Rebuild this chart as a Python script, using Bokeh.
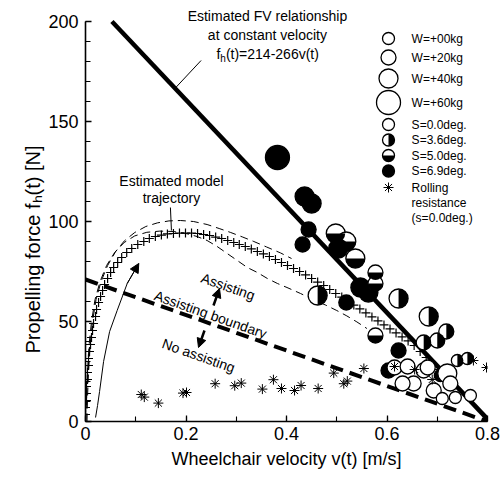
import math
from bokeh.plotting import figure
from bokeh.layouts import row
from bokeh.models import (Range1d, SingleIntervalTicker, CustomJSTickFormatter,
                          Label, Arrow, NormalHead, ColumnDataSource)
from bokeh.embed import file_html
from bokeh.resources import INLINE

FONT = "Liberation Sans"

# ---------------- data ----------------
# Estimated FV relationship f = 214 - 266 v
fv_intercept = 214.0
fv_slope = 266.0
fv_v_max = 0.8

# Assisting boundary
bound_v = [0.0, 0.8]
bound_f = [71.0, 0.0]

# Estimated model trajectory (crosses)
traj_v = [0.000, 0.000, 0.002, 0.002, 0.002, 0.004, 0.004, 0.006, 0.006, 0.008,
          0.010, 0.012, 0.014, 0.016, 0.020, 0.022, 0.026, 0.030, 0.034, 0.038,
          0.044, 0.050, 0.056, 0.064, 0.072, 0.082, 0.092, 0.104, 0.116, 0.127,
          0.139, 0.151, 0.163, 0.175, 0.187, 0.199, 0.211, 0.223, 0.235, 0.247,
          0.259, 0.271, 0.283, 0.295, 0.306, 0.318, 0.330, 0.342, 0.354, 0.366,
          0.378, 0.390, 0.402, 0.414, 0.426, 0.438, 0.450, 0.462, 0.474, 0.486,
          0.498, 0.510, 0.522, 0.534, 0.546, 0.558, 0.570, 0.582, 0.594, 0.606,
          0.618, 0.630, 0.642, 0.654, 0.666, 0.678, 0.690, 0.702, 0.714]
traj_f = [3.5, 7, 10.5, 14, 17.5, 21, 24.5, 28, 31.5, 35,
          38.5, 42, 45.5, 49, 52.5, 56, 59.5, 62.5, 65.5, 68.5,
          71.5, 74.5, 77, 79.5, 82, 84.5, 86.5, 88.5, 90, 91.5,
          92.5, 93.2, 93.8, 94, 94.2, 94.2, 94.2, 94, 93.5, 93,
          92.2, 91.5, 90.5, 89.5, 88.5, 87.5, 86.3, 85, 83.8, 82.5,
          81, 79.5, 78, 76.5, 75, 73.3, 71.5, 69.7, 68, 66,
          64, 62.2, 60.2, 58.2, 56.3, 54.3, 52.3, 50.3, 48.3, 46.3,
          44.3, 42.3, 40.3, 38, 35, 32, 29, 26, 23]

# dashed envelopes of the trajectory
up_v = [0.003, 0.004, 0.006, 0.009, 0.014, 0.021, 0.031, 0.044, 0.060, 0.078,
        0.098, 0.120, 0.143, 0.166, 0.189, 0.215, 0.242, 0.266, 0.289, 0.312,
        0.335, 0.360, 0.388, 0.410]
up_f = [0, 12, 25, 38, 50, 61, 70, 78, 85, 90.5,
        94.5, 97.5, 99.3, 100.3, 100.5, 100, 98.5, 96.5, 94.5, 92.3,
        90, 87.3, 84.3, 81.5]
lo_v = [0.001, 0.002, 0.004, 0.007, 0.012, 0.019, 0.029, 0.042, 0.058, 0.077,
        0.098, 0.122, 0.148, 0.175, 0.200, 0.222, 0.242, 0.262, 0.282, 0.302,
        0.322, 0.342, 0.362, 0.382, 0.401, 0.428, 0.454, 0.478, 0.500, 0.520,
        0.540, 0.560]
lo_f = [0, 12, 25, 38, 50, 61, 70, 78, 84.5, 89.5,
        92.8, 94.6, 95.2, 95, 94, 92.5, 90.5, 87.5, 84, 80.5,
        77, 74.5, 71.5, 69, 67, 64, 60.8, 58.2, 55.5, 52.8,
        49.8, 46.5]

# thin arrow curve
arr_v = [0.020, 0.024, 0.028, 0.036, 0.048, 0.063, 0.083, 0.106]
arr_f = [2, 8, 15, 30, 45, 55.5, 69, 79]

# rolling resistance (asterisks)
rr_v = [0.111, 0.117, 0.145, 0.194, 0.201, 0.258, 0.297, 0.310, 0.352, 0.374,
        0.390, 0.416, 0.429, 0.463, 0.494, 0.514, 0.521, 0.554, 0.772, 0.798,
        0.615, 0.655, 0.690]
rr_f = [13.5, 12.2, 9.2, 14.2, 14.5, 18.9, 17.9, 19.2, 16.2, 20.9,
        16.5, 15.5, 18.0, 16.5, 24.2, 18.9, 20.2, 26.5, 30.5, 27.0,
        27.5, 26.0, 21.0]

# measured points: velocity, force, added weight [kg], slope [deg]
circ_v = [0.382, 0.436, 0.450, 0.444, 0.432, 0.498, 0.519, 0.503, 0.537, 0.577,
          0.547, 0.563, 0.577, 0.462, 0.519, 0.623, 0.683, 0.577, 0.623, 0.673,
          0.700, 0.718, 0.603, 0.740, 0.760, 0.706, 0.615, 0.641, 0.673, 0.653,
          0.693, 0.720, 0.726, 0.710, 0.736, 0.766, 0.681, 0.631]
circ_f = [132, 112.5, 109, 96, 88.5, 94, 90, 86.5, 81.5, 74.5,
          67, 64.5, 69, 63, 59.5, 61.5, 52.5, 43, 35.5, 39.5,
          40.5, 45, 25.5, 30.5, 31.5, 23, 27, 27.5, 25.5, 19,
          15.5, 24, 19, 11.5, 12, 13, 27, 19]
circ_w = [60, 40, 40, 20, 20, 40, 40, 40, 40, 20,
          40, 40, 20, 40, 20, 40, 40, 20, 20, 20,
          20, 20, 20, 0, 0, 0, 20, 20, 20, 20,
          20, 40, 20, 0, 0, 0, 20, 20]
circ_s = [6.9, 6.9, 6.9, 6.9, 6.9, 5.0, 5.0, 6.9, 5.0, 5.0,
          6.9, 6.9, 5.0, 3.6, 6.9, 3.6, 3.6, 5.0, 6.9, 3.6,
          3.6, 3.6, 6.9, 3.6, 3.6, 6.9, 0.0, 0.0, 0.0, 0.0,
          0.0, 0.0, 0.0, 0.0, 0.0, 0.0, 0.0, 0.0]

legend_w = [0, 20, 40, 60]
legend_w_text = ["W=+00kg", "W=+20kg", "W=+40kg", "W=+60kg"]
legend_s = [0.0, 3.6, 5.0, 6.9]
legend_s_text = ["S=0.0deg.", "S=3.6deg.", "S=5.0deg.", "S=6.9deg."]
legend_rr_text = ["Rolling", "resistance", "(s=0.0deg.)"]

assert len(traj_v) == len(traj_f)
assert len(up_v) == len(up_f) and len(lo_v) == len(lo_f)
assert len(rr_v) == len(rr_f)
assert len(circ_v) == len(circ_f) == len(circ_w) == len(circ_s)

# ---------------- styles ----------------
W_DIAM = {0: 12, 20: 15, 40: 19, 60: 24}
PXV = 0.8 / 402.0   # data units of v per screen pixel
PXF = 0.5           # data units of f per screen pixel
LEFT_W = 45         # width of the strip holding the y-axis title
PAGE_H = 478
BORDER_TOP, BORDER_BOTTOM = 9, 57

p = figure(width=455, height=PAGE_H, x_range=Range1d(0, 0.8), y_range=Range1d(0, 206),
           output_backend="svg", toolbar_location=None,
           min_border_left=40, min_border_right=13,
           min_border_top=BORDER_TOP, min_border_bottom=BORDER_BOTTOM)
p.outline_line_color = None
p.grid.visible = False
p.background_fill_color = "white"
p.border_fill_color = "white"

p.xaxis.ticker = SingleIntervalTicker(interval=0.2, num_minor_ticks=2)
p.yaxis.ticker = SingleIntervalTicker(interval=50, num_minor_ticks=5)
p.yaxis.bounds = (0, 200)
p.xaxis.formatter = CustomJSTickFormatter(code="return Math.abs(tick) < 1e-9 ? '0' : tick.toFixed(1);")
for ax in (p.xaxis, p.yaxis):
    ax.axis_line_width = 1.6
    ax.axis_line_color = "black"
    ax.major_tick_in = 6
    ax.major_tick_out = 0
    ax.minor_tick_in = 5
    ax.minor_tick_out = 0
    ax.major_tick_line_width = 1.3
    ax.minor_tick_line_width = 1.1
    ax.major_tick_line_color = "black"
    ax.minor_tick_line_color = "black"
    ax.major_label_text_font = FONT
    ax.major_label_text_font_size = "18px"
    ax.major_label_text_color = "black"
p.xaxis.major_label_standoff = 5
p.yaxis.major_label_standoff = 7
p.xaxis.axis_label = "Wheelchair velocity v(t) [m/s]"
p.xaxis.axis_label_text_font = FONT
p.xaxis.axis_label_text_font_size = "18px"
p.xaxis.axis_label_text_font_style = "normal"
p.xaxis.axis_label_text_color = "black"
p.xaxis.axis_label_standoff = 6

# ---------------- lines ----------------
fv_v = [(fv_intercept - 200.0) / fv_slope, fv_v_max]
fv_f = [fv_intercept - fv_slope * v for v in fv_v]
p.line(fv_v, fv_f, line_width=4.5, line_color="black")
p.line(bound_v, bound_f, line_width=4, line_color="black", line_dash="13 7")
p.line(up_v, up_f, line_width=1, line_color="black", line_dash="8 5")
p.line(lo_v, lo_f, line_width=1, line_color="black", line_dash="8 5")
p.line(arr_v, arr_f, line_width=1, line_color="black")
p.add_layout(Arrow(end=NormalHead(size=9, fill_color="black", line_color="black", line_width=1),
                   x_start=arr_v[-2], y_start=arr_f[-2], x_end=arr_v[-1], y_end=arr_f[-1],
                   line_width=1, line_color="black"))

# trajectory crosses
p.scatter(traj_v, traj_f, marker="cross", size=9, line_color="black", line_width=1.2)

# ---------------- measured circles ----------------
def circle_source(vs, fs, ws, ss):
    d = [W_DIAM[w] for w in ws]
    return ColumnDataSource(dict(
        v=vs, f=fs, d=d, r=[x / 2.0 for x in d],
        fill=["black" if s >= 6.9 else "white" for s in ss],
        start=[-math.pi / 2 if s == 3.6 else math.pi for s in ss],
        end=[math.pi / 2 if s == 3.6 else 2 * math.pi for s in ss],
        half=[s in (3.6, 5.0) for s in ss]))

def draw_circles(src):
    p.scatter("v", "f", source=src, marker="circle", size="d", fill_color="fill",
              line_color="black", line_width=1.3)
    data = src.data
    idx = [i for i, h in enumerate(data["half"]) if h]
    if idx:
        sub = ColumnDataSource({k: [data[k][i] for i in idx] for k in data})
        p.wedge("v", "f", source=sub, radius="r", radius_units="screen",
                start_angle="start", end_angle="end", fill_color="black", line_color=None)

draw_circles(circle_source(circ_v, circ_f, circ_w, circ_s))

# rolling resistance asterisks
p.scatter(rr_v, rr_f, marker="asterisk", size=10, line_color="black", line_width=1)

# ---------------- legend (custom) ----------------
LEG_SYM_V = 0.603
LEG_TXT_V = 0.649
leg_w_f = [191.5, 182.0, 171.5, 159.5]
leg_s_f = [148.5, 140.75, 133.0, 125.25]
leg_rr_f = [117.0, 109.5, 102.0]
draw_circles(circle_source([LEG_SYM_V] * 4, leg_w_f, legend_w, [0.0] * 4))
draw_circles(circle_source([LEG_SYM_V] * 4, leg_s_f, [0] * 4, legend_s))
p.scatter([LEG_SYM_V], [leg_rr_f[0]], marker="asterisk", size=10, line_color="black", line_width=1)
for txt, fy in zip(legend_w_text + legend_s_text + legend_rr_text, leg_w_f + leg_s_f + leg_rr_f):
    p.add_layout(Label(x=LEG_TXT_V, y=fy, text=txt, text_font=FONT, text_font_size="12px",
                       text_align="left", text_baseline="middle", text_color="black"))

# ---------------- annotations ----------------
def lab(fig, x, y, text, size="14px", align="center", angle=0.0, baseline="middle"):
    fig.add_layout(Label(x=x, y=y, text=text, text_font=FONT, text_font_size=size,
                         text_align=align, text_baseline=baseline, angle=angle,
                         text_color="black"))

# FV relationship annotation
lab(p, 0.362, 203.0, "Estimated FV relationship")
lab(p, 0.362, 193.5, "at constant velocity")
eq_x0 = 0.362 - 51 * PXV
lab(p, eq_x0, 184.0, "f", align="left")
lab(p, eq_x0 + 3.9 * PXV, 184.0 - 4.5 * PXF, "h", size="10px", align="left")
lab(p, eq_x0 + 9.5 * PXV, 184.0, "(t)=214-266v(t)", align="left")
p.line([0.230, 0.1805], [180.5, 167.2], line_width=1, line_color="black")

# model trajectory annotation
lab(p, 0.171, 120.5, "Estimated model")
lab(p, 0.171, 112.0, "trajectory")
p.line([0.169, 0.171], [107.0, 95.5], line_width=1, line_color="black")

# boundary texts
ang = -math.atan(((bound_f[0] - bound_f[1]) / PXF) / ((bound_v[1] - bound_v[0]) / PXV))
lab(p, 0.249, 53.5, "Assisting boundary", angle=ang)
lab(p, 0.2836, 67.5, "Assisting", angle=ang)
lab(p, 0.225, 33.0, "No assisting", angle=ang)
for xs, ys, xe, ye in [(0.2547, 58.0, 0.2667, 66.5), (0.2368, 45.5, 0.2249, 37.0)]:
    p.add_layout(Arrow(end=NormalHead(size=9, fill_color="black", line_color="black"),
                       x_start=xs, y_start=ys, x_end=xe, y_end=ye,
                       line_width=2.5, line_color="black"))

# ---------------- y-axis title strip ----------------
# its frame is aligned with the main frame by the row layout, so map the
# y range to page pixels measured from the bottom of the canvas
q = figure(width=LEFT_W, height=PAGE_H, x_range=Range1d(0, LEFT_W),
           y_range=Range1d(BORDER_BOTTOM, PAGE_H - BORDER_TOP),
           output_backend="svg", toolbar_location=None, min_border=0,
           x_axis_type=None, y_axis_type=None)
q.outline_line_color = None
q.grid.visible = False
q.background_fill_color = "white"
q.border_fill_color = "white"
lab(q, 32, PAGE_H - 353, "Propelling force f\u2095(t) [N]", size="20px", align="left",
    angle=math.pi / 2)

layout = row(q, p, spacing=0)
open("out.html", "w").write(file_html(layout, INLINE))
